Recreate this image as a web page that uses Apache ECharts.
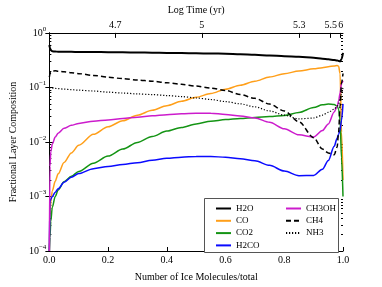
<!DOCTYPE html>
<html>
<head>
<meta charset="utf-8">
<script src="https://cdn.jsdelivr.net/npm/echarts@6/dist/echarts.min.js"></script>
<style>
html,body{margin:0;padding:0;background:#fff;}
#chart{width:382px;height:287px;}
</style>
</head>
<body>
<div id="chart"></div>
<script>
// ---- data ----
const xFrac = [0, 0.002, 0.005, 0.01, 0.02, 0.03, 0.05, 0.075, 0.1, 0.15, 0.2, 0.25, 0.3, 0.35, 0.4, 0.45, 0.5, 0.55, 0.6, 0.65, 0.7, 0.75, 0.8, 0.85, 0.9, 0.93, 0.95, 0.97, 0.98, 0.985, 0.99, 0.995, 1.0];

const H2O   = [0.6, 0.53, 0.48, 0.46, 0.455, 0.452, 0.45, 0.449, 0.448, 0.446, 0.443, 0.44, 0.437, 0.434, 0.43, 0.426, 0.422, 0.42, 0.416, 0.407, 0.396, 0.386, 0.375, 0.364, 0.35, 0.337, 0.328, 0.318, 0.312, 0.306, 0.30, 0.33, 0.43];
const CO    = [1e-4, 0.0004, 0.00079, 0.00126, 0.0019, 0.0026, 0.0042, 0.0063, 0.0087, 0.0138, 0.019, 0.0245, 0.0309, 0.038, 0.0462, 0.0556, 0.066, 0.0776, 0.0923, 0.1096, 0.13, 0.155, 0.178, 0.2, 0.219, 0.23, 0.239, 0.248, 0.252, 0.245, 0.18, 0.015, 0.002];
const CO2   = [1e-4, 0.000178, 0.000355, 0.00063, 0.001, 0.00132, 0.00186, 0.00234, 0.00288, 0.00407, 0.0055, 0.0074, 0.0098, 0.0126, 0.0158, 0.0184, 0.0214, 0.024, 0.0257, 0.0269, 0.0281, 0.0292, 0.0305, 0.0347, 0.0427, 0.0479, 0.0495, 0.0484, 0.0457, 0.0398, 0.0251, 0.005, 0.001];
const H2CO  = [1e-4, 0.00079, 0.00089, 0.001, 0.0012, 0.00138, 0.00182, 0.00226, 0.00263, 0.00324, 0.00355, 0.00385, 0.00417, 0.00462, 0.005, 0.00525, 0.00542, 0.00543, 0.00522, 0.0049, 0.00452, 0.00372, 0.00292, 0.0024, 0.00243, 0.00316, 0.00457, 0.0083, 0.0117, 0.0138, 0.0166, 0.0251, 0.05];
const CH3OH = [1e-4, 0.00355, 0.0066, 0.0091, 0.0123, 0.0145, 0.0178, 0.0202, 0.0219, 0.0239, 0.0254, 0.0269, 0.0285, 0.0302, 0.0316, 0.0329, 0.0337, 0.0335, 0.032, 0.0299, 0.0275, 0.0229, 0.0174, 0.0135, 0.0123, 0.0162, 0.0214, 0.0355, 0.0447, 0.0562, 0.0794, 0.1175, 0.132];
const CH4   = [0.155, 0.175, 0.19, 0.2, 0.202, 0.199, 0.193, 0.186, 0.179, 0.166, 0.154, 0.145, 0.137, 0.13, 0.122, 0.114, 0.106, 0.097, 0.088, 0.074, 0.063, 0.0495, 0.037, 0.0234, 0.012, 0.0074, 0.0063, 0.0058, 0.008, 0.015, 0.045, 0.12, 0.18];
const NH3   = [0.1, 0.099, 0.098, 0.097, 0.096, 0.095, 0.093, 0.091, 0.089, 0.086, 0.082, 0.079, 0.076, 0.074, 0.071, 0.068, 0.064, 0.06, 0.055, 0.05, 0.044, 0.037, 0.031, 0.0265, 0.0275, 0.031, 0.035, 0.04, 0.045, 0.05, 0.06, 0.08, 0.1];

const seriesNames = ['H2O', 'CO', 'CO2', 'H2CO', 'CH3OH', 'CH4', 'NH3'];
const legendCol1 = ['H2O', 'CO', 'CO2', 'H2CO'];
const legendCol2 = ['CH3OH', 'CH4', 'NH3'];

const xTickValues = [0, 0.2, 0.4, 0.6, 0.8, 1.0];
const topTickPos = [0.224, 0.519, 0.851, 0.958, 0.992];
const topTickLabels = ['4.7', '5', '5.3', '5.5', '6'];
const yMajorTicks = [1e-4, 1e-3, 1e-2, 1e-1, 1];
const yMinorTicks = [2e-4,3e-4,4e-4,5e-4,6e-4,7e-4,8e-4,9e-4, 2e-3,3e-3,4e-3,5e-3,6e-3,7e-3,8e-3,9e-3, 2e-2,3e-2,4e-2,5e-2,6e-2,7e-2,8e-2,9e-2, 0.2,0.3,0.4,0.5,0.6,0.7,0.8,0.9];

// ---- styling ----
const FONT = 'Liberation Serif';
const styles = {
  H2O:   {color: '#000000', width: 2,   type: 'solid'},
  CO:    {color: '#ff9f1a', width: 1.5, type: 'solid'},
  CO2:   {color: '#149414', width: 1.5, type: 'solid'},
  H2CO:  {color: '#0a0aff', width: 1.5, type: 'solid'},
  CH3OH: {color: '#cc1ccc', width: 1.5, type: 'solid'},
  CH4:   {color: '#000000', width: 1.5, type: [5, 3]},
  NH3:   {color: '#000000', width: 1.2, type: [1.2, 1.8]}
};
const values = {H2O, CO, CO2, H2CO, CH3OH, CH4, NH3};

const chart = echarts.init(document.getElementById('chart'), null, {renderer: 'canvas'});

const axisLineStyle = {color: '#000', width: 1};
const logAxisBase = {
  type: 'log', logBase: 10, min: 1e-4, max: 1,
  splitLine: {show: false}, minorTick: {show: false}, minorSplitLine: {show: false}
};

function supLabel(v) {
  const e = Math.round(Math.log10(v));
  const s = e < 0 ? '\u2212' + (-e) : String(e);
  return '{b|10}{s|' + s + '}';
}

const legendBase = {
  orient: 'vertical', itemWidth: 15, itemHeight: 10, itemGap: 3.3, selectedMode: false,
  itemStyle: {color: 'rgba(0,0,0,0)', borderColor: 'rgba(0,0,0,0)', borderWidth: 0, opacity: 0},
  textStyle: {fontFamily: FONT, fontSize: 9, color: '#000'}
};

const option = {
  backgroundColor: '#fff',
  animation: false,
  grid: {left: 48, right: 39, top: 28, bottom: 29, containLabel: false},
  xAxis: [
    {
      type: 'value', position: 'bottom', min: 0, max: 1, interval: 0.2,
      name: 'Number of Ice Molecules/total', nameLocation: 'middle', nameGap: 21,
      nameTextStyle: {fontFamily: FONT, fontSize: 10, color: '#000'},
      axisLine: {show: true, lineStyle: axisLineStyle},
      axisTick: {show: true, inside: true, length: 4, lineStyle: {color: '#000'}, customValues: xTickValues},
      axisLabel: {show: true, margin: 4, fontFamily: FONT, fontSize: 10, color: '#000',
        customValues: xTickValues, formatter: v => v.toFixed(1)},
      splitLine: {show: false}
    },
    {
      type: 'value', position: 'top', min: 0, max: 1,
      name: 'Log Time (yr)', nameLocation: 'middle', nameGap: 17,
      nameTextStyle: {fontFamily: FONT, fontSize: 10, color: '#000'},
      axisLine: {show: true, lineStyle: axisLineStyle},
      axisTick: {show: true, inside: true, length: 5, lineStyle: {color: '#000'}, customValues: topTickPos},
      axisLabel: {show: true, margin: 3, fontFamily: FONT, fontSize: 10, color: '#000',
        customValues: topTickPos,
        formatter: v => { const i = topTickPos.findIndex(p => Math.abs(p - v) < 1e-6); return i >= 0 ? topTickLabels[i] : ''; }},
      splitLine: {show: false}
    }
  ],
  yAxis: [
    Object.assign({}, logAxisBase, {
      position: 'left',
      name: 'Fractional Layer Composition', nameLocation: 'middle', nameGap: 24,
      nameTextStyle: {fontFamily: FONT, fontSize: 10, color: '#000'},
      axisLine: {show: true, lineStyle: axisLineStyle},
      axisTick: {show: true, inside: true, length: 4, lineStyle: {color: '#000'}, customValues: yMajorTicks},
      axisLabel: {show: true, margin: 3, formatter: supLabel, customValues: yMajorTicks,
        rich: {
          b: {fontFamily: FONT, fontSize: 10, color: '#000'},
          s: {fontFamily: FONT, fontSize: 7, color: '#000', padding: [0, 0, 8, 0]}
        }}
    }),
    Object.assign({}, logAxisBase, {
      position: 'right',
      axisLine: {show: true, lineStyle: axisLineStyle},
      axisTick: {show: true, inside: true, length: 4, lineStyle: {color: '#000'}, customValues: yMajorTicks},
      axisLabel: {show: false}
    }),
    Object.assign({}, logAxisBase, {
      position: 'right', // flipped to left by ECharts since right is already used
      axisLine: {show: false},
      axisTick: {show: true, inside: true, length: 2, lineStyle: {color: '#000'}, customValues: yMinorTicks},
      axisLabel: {show: false}
    }),
    Object.assign({}, logAxisBase, {
      position: 'left', // flipped to right
      axisLine: {show: false},
      axisTick: {show: true, inside: true, length: 2, lineStyle: {color: '#000'}, customValues: yMinorTicks},
      axisLabel: {show: false}
    })
  ],
  legend: [
    Object.assign({}, legendBase, {data: legendCol1, left: 210, top: 199}),
    Object.assign({}, legendBase, {data: legendCol2, left: 280, top: 199})
  ],
  graphic: [
    {type: 'rect', z: 3, shape: {x: 204.5, y: 198.5, width: 134, height: 54},
     style: {fill: '#fff', stroke: '#555', lineWidth: 1}}
  ],
  series: seriesNames.map(name => ({
    name: name, type: 'line', xAxisIndex: 0, yAxisIndex: 0,
    symbol: 'none', showSymbol: false, smooth: 0.3, smoothMonotone: 'x',
    clip: true, z: 2,
    lineStyle: {color: styles[name].color, width: styles[name].width, type: styles[name].type},
    itemStyle: {color: styles[name].color},
    emphasis: {disabled: true},
    data: xFrac.map((x, i) => [x, values[name][i]])
  }))
};

chart.setOption(option);
</script>
</body>
</html>
